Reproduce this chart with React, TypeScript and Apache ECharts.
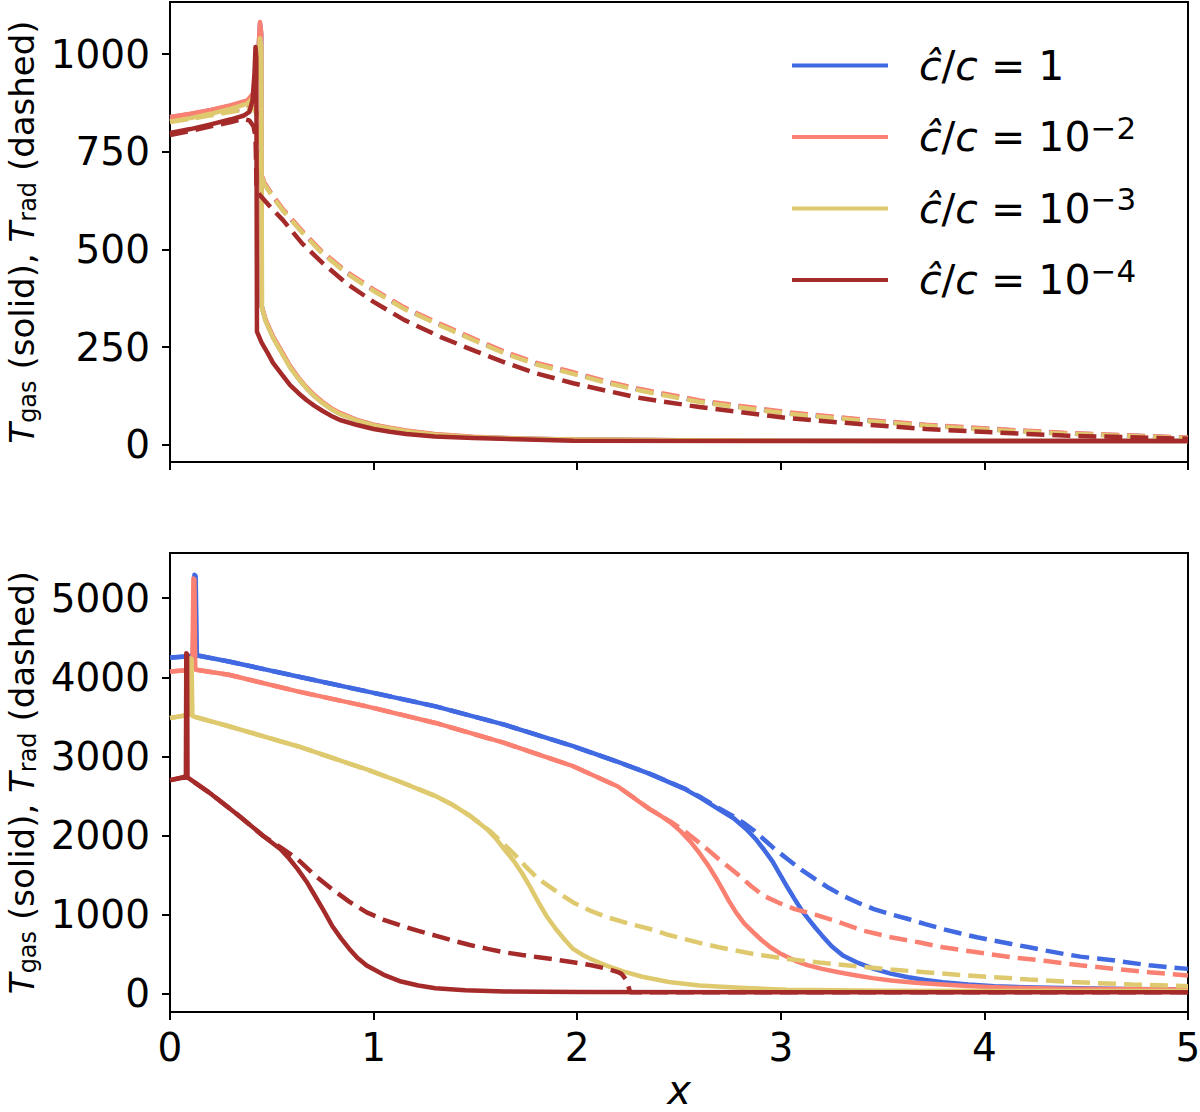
import React, { useEffect, useRef } from 'react';
import * as echarts from 'echarts';

type Pt = [number, number];

const FONT = 'DejaVu Sans';

// Axis ticks
const xTicks = [0, 1, 2, 3, 4, 5];
const topYTicks = [0, 250, 500, 750, 1000];
const bottomYTicks = [0, 1000, 2000, 3000, 4000, 5000];

// Legend entries: reduced speed of light ratio
const seriesKeys = ['r0', 'r2', 'r3', 'r4'];
const ratioBase = ['1', '10', '10', '10'];
const ratioExp = ['', '−2', '−3', '−4'];
const lineColors = ['#4169E1', '#FA8072', '#DFC96E', '#A52A2A'];

// ---------- upper panel: gas (solid) and radiation (dashed) temperature ----------
const topGas1: Pt[] = [
  [0, 838], [0.1, 846], [0.2, 856], [0.3, 868], [0.38, 880], [0.41, 898], [0.43, 960], [0.442, 1078], [0.448, 1050],
  [0.45, 355], [0.47, 318], [0.506, 276], [0.55, 236], [0.59, 200], [0.63, 171], [0.67, 146], [0.71, 125], [0.75, 108],
  [0.79, 93], [0.835, 80], [0.92, 63], [1.0, 51], [1.08, 43], [1.16, 36], [1.3, 27], [1.49, 20], [1.75, 16], [1.98, 14],
  [2.5, 12], [3, 11], [4, 10], [5, 10],
];
const topRad1: Pt[] = [
  [0, 830], [0.1, 838], [0.2, 846], [0.3, 855], [0.38, 862], [0.41, 864], [0.43, 845], [0.44, 770], [0.445, 705],
  [0.46, 672], [0.5, 640], [0.555, 601], [0.65, 545], [0.75, 491], [0.87, 440], [1.0, 396], [1.15, 350], [1.33, 307],
  [1.5, 268], [1.65, 235], [1.8, 208], [1.98, 184], [2.15, 160], [2.31, 141], [2.6, 112], [3.03, 82], [3.4, 64],
  [3.71, 51], [4.05, 40], [4.39, 30], [4.7, 24], [5.0, 18],
];
const topGas2: Pt[] = [
  [0, 839], [0.1, 847], [0.2, 857], [0.3, 869], [0.38, 881], [0.41, 900], [0.43, 965], [0.442, 1082], [0.448, 1055],
  [0.45, 356], [0.47, 320], [0.506, 278], [0.55, 238], [0.59, 202], [0.63, 173], [0.67, 148], [0.71, 127], [0.75, 110],
  [0.79, 95], [0.835, 82], [0.92, 64], [1.0, 52], [1.08, 44], [1.16, 37], [1.3, 28], [1.49, 21], [1.75, 16], [1.98, 14],
  [2.5, 12], [3, 11], [4, 10], [5, 10],
];
const topRad2: Pt[] = [
  [0, 831], [0.1, 839], [0.2, 847], [0.3, 856], [0.38, 863], [0.41, 865], [0.43, 846], [0.44, 772], [0.445, 707],
  [0.46, 674], [0.5, 642], [0.555, 603], [0.65, 547], [0.75, 493], [0.87, 442], [1.0, 398], [1.15, 352], [1.33, 309],
  [1.5, 270], [1.65, 237], [1.8, 210], [1.98, 186], [2.15, 162], [2.31, 143], [2.6, 114], [3.03, 84], [3.4, 65],
  [3.71, 52], [4.05, 41], [4.39, 31], [4.7, 25], [5.0, 19],
];
const topGas3: Pt[] = [
  [0, 827], [0.1, 836], [0.2, 847], [0.3, 860], [0.38, 873], [0.41, 890], [0.43, 950], [0.442, 1040], [0.448, 1020],
  [0.452, 350], [0.47, 316], [0.506, 274], [0.55, 234], [0.59, 198], [0.63, 170], [0.67, 145], [0.71, 124], [0.75, 107],
  [0.79, 92], [0.835, 79], [0.92, 62], [1.0, 50], [1.08, 42], [1.16, 35], [1.3, 26], [1.49, 20], [1.75, 16], [1.98, 14],
  [2.5, 12], [3, 11], [4, 10], [5, 10],
];
const topRad3: Pt[] = [
  [0, 826], [0.1, 834], [0.2, 843], [0.3, 852], [0.38, 859], [0.41, 861], [0.43, 842], [0.44, 768], [0.445, 702],
  [0.46, 670], [0.5, 638], [0.555, 599], [0.65, 543], [0.75, 489], [0.87, 438], [1.0, 394], [1.15, 348], [1.33, 305],
  [1.5, 266], [1.65, 233], [1.8, 206], [1.98, 182], [2.15, 158], [2.31, 139], [2.6, 110], [3.03, 80], [3.4, 62],
  [3.71, 49], [4.05, 38], [4.39, 29], [4.7, 23], [5.0, 17],
];
const topGas4: Pt[] = [
  [0, 798], [0.1, 808], [0.2, 820], [0.3, 833], [0.36, 842], [0.39, 852], [0.405, 880], [0.415, 950], [0.42, 1018],
  [0.424, 990], [0.427, 290], [0.45, 262], [0.48, 235], [0.506, 210], [0.55, 180], [0.59, 153], [0.63, 133], [0.67, 115],
  [0.71, 100], [0.75, 87], [0.79, 75], [0.835, 64], [0.92, 51], [1.0, 41], [1.08, 34], [1.16, 28], [1.3, 22], [1.49, 18],
  [1.98, 11], [3, 10], [5, 10],
];
const topRad4: Pt[] = [
  [0, 793], [0.1, 803], [0.2, 815], [0.3, 826], [0.36, 834], [0.39, 830], [0.41, 815], [0.42, 790], [0.425, 660],
  [0.44, 640], [0.5, 605], [0.555, 575], [0.65, 515], [0.75, 465], [0.87, 412], [1.0, 366], [1.15, 320], [1.33, 276],
  [1.5, 240], [1.65, 210], [1.8, 183], [1.98, 158], [2.15, 138], [2.31, 120], [2.6, 97], [3.03, 69], [3.4, 53],
  [3.71, 41], [4.05, 32], [4.39, 24], [4.7, 20], [5.0, 16],
];

// ---------- lower panel ----------
const botGas1: Pt[] = [
  [0, 4250], [0.078, 4263], [0.112, 4275], [0.12, 5295], [0.126, 5280], [0.132, 4278], [0.289, 4200], [0.627, 4011],
  [0.966, 3822], [1.304, 3633], [1.642, 3402], [1.98, 3129], [2.2, 2930], [2.357, 2780], [2.527, 2590], [2.61, 2470],
  [2.696, 2331], [2.77, 2215], [2.831, 2079], [2.875, 1960], [2.916, 1827], [2.96, 1670], [3.0, 1491], [3.034, 1340],
  [3.068, 1197], [3.1, 1065], [3.136, 945], [3.17, 835], [3.203, 735], [3.25, 600], [3.305, 483], [3.38, 390],
  [3.457, 315], [3.54, 255], [3.626, 210], [3.71, 175], [3.795, 147], [3.92, 118], [4.049, 97], [4.2, 82],
  [4.387, 72], [4.7, 62], [5.0, 54],
];
const botRad1: Pt[] = [
  [0, 4248], [0.078, 4262], [0.132, 4276], [0.289, 4200], [0.627, 4011], [0.966, 3822], [1.304, 3633], [1.642, 3402],
  [1.98, 3129], [2.2, 2930], [2.357, 2780], [2.527, 2595], [2.61, 2480], [2.696, 2345], [2.76, 2255], [2.815, 2163],
  [2.87, 2060], [2.916, 1953], [2.97, 1830], [3.034, 1701], [3.1, 1570], [3.169, 1449], [3.235, 1340], [3.305, 1239],
  [3.38, 1150], [3.457, 1071], [3.54, 1005], [3.626, 945], [3.71, 880], [3.795, 819], [3.88, 765], [3.964, 714],
  [4.05, 670], [4.133, 630], [4.22, 588], [4.303, 546], [4.39, 504], [4.471, 470], [4.641, 420], [4.81, 360], [5.0, 315],
];
const botGas2: Pt[] = [
  [0, 4074], [0.08, 4090], [0.11, 4095], [0.115, 5250], [0.12, 5235], [0.124, 4098], [0.289, 4032], [0.627, 3822],
  [0.966, 3633], [1.304, 3423], [1.642, 3171], [1.98, 2876], [2.2, 2620], [2.357, 2331], [2.41, 2250], [2.459, 2163],
  [2.51, 2050], [2.56, 1911], [2.6, 1780], [2.645, 1617], [2.68, 1470], [2.713, 1323], [2.745, 1175], [2.78, 1029],
  [2.82, 890], [2.865, 777], [2.905, 680], [2.949, 588], [3.0, 505], [3.068, 420], [3.13, 362], [3.203, 315],
  [3.29, 270], [3.372, 231], [3.45, 198], [3.541, 168], [3.66, 140], [3.795, 118], [3.92, 100], [4.049, 84],
  [4.2, 72], [4.387, 63], [5.0, 54],
];
const botRad2: Pt[] = [
  [0, 4072], [0.08, 4088], [0.124, 4097], [0.289, 4032], [0.627, 3822], [0.966, 3633], [1.304, 3423], [1.642, 3171],
  [1.98, 2876], [2.2, 2620], [2.357, 2335], [2.459, 2175], [2.52, 2070], [2.578, 1953], [2.64, 1825], [2.696, 1701],
  [2.75, 1590], [2.797, 1491], [2.855, 1360], [2.916, 1239], [2.99, 1150], [3.068, 1071], [3.169, 1000], [3.288, 903],
  [3.406, 798], [3.541, 714], [3.677, 651], [3.795, 588], [3.964, 525], [4.133, 462], [4.303, 415], [4.471, 360],
  [4.641, 315], [4.81, 273], [5.0, 231],
];
const botGas3: Pt[] = [
  [0, 3486], [0.095, 3528], [0.1, 4242], [0.106, 4230], [0.11, 3510], [0.289, 3381], [0.627, 3129], [0.966, 2835],
  [1.13, 2680], [1.304, 2499], [1.39, 2385], [1.473, 2250], [1.557, 2080], [1.6, 1965], [1.642, 1827], [1.685, 1690],
  [1.727, 1533], [1.77, 1345], [1.81, 1155], [1.85, 980], [1.895, 819], [1.94, 680], [1.98, 567], [2.025, 495],
  [2.067, 440], [2.11, 392], [2.15, 350], [2.23, 280], [2.32, 215], [2.45, 150], [2.6, 105], [2.8, 75], [3.03, 52],
  [3.5, 40], [4.0, 36], [5.0, 34],
];
const botRad3: Pt[] = [
  [0, 3484], [0.095, 3526], [0.11, 3508], [0.289, 3381], [0.627, 3129], [0.966, 2835], [1.13, 2680], [1.304, 2499],
  [1.39, 2385], [1.473, 2250], [1.575, 2050], [1.63, 1915], [1.693, 1760], [1.75, 1600], [1.81, 1449], [1.9, 1290],
  [1.98, 1155], [2.06, 1055], [2.15, 966], [2.25, 890], [2.357, 819], [2.44, 750], [2.527, 693], [2.61, 638],
  [2.696, 588], [2.865, 504], [3.034, 441], [3.203, 391], [3.372, 349], [3.541, 307], [3.71, 273], [3.88, 239],
  [4.049, 210], [4.218, 181], [4.387, 155], [4.556, 134], [4.726, 118], [5.0, 97],
];
const botGas4: Pt[] = [
  [0, 2700], [0.053, 2730], [0.078, 2750], [0.08, 4305], [0.084, 4290], [0.086, 2735], [0.205, 2520], [0.34, 2247],
  [0.458, 1995], [0.543, 1827], [0.585, 1710], [0.627, 1575], [0.67, 1420], [0.712, 1239], [0.755, 1050], [0.796, 861],
  [0.84, 700], [0.881, 567], [0.92, 455], [0.966, 357], [1.05, 240], [1.135, 155], [1.22, 105], [1.304, 71],
  [1.45, 45], [1.642, 29], [2.0, 22], [3.0, 20], [5.0, 20],
];
const botRad4: Pt[] = [
  [0, 2698], [0.053, 2728], [0.086, 2735], [0.205, 2520], [0.34, 2247], [0.458, 1995], [0.543, 1850], [0.627, 1701],
  [0.71, 1500], [0.796, 1323], [0.88, 1165], [0.966, 1029], [1.05, 935], [1.135, 861], [1.22, 795], [1.304, 735],
  [1.39, 672], [1.473, 617], [1.56, 568], [1.642, 525], [1.73, 490], [1.81, 462], [1.9, 430], [1.98, 399],
  [2.07, 360], [2.15, 315], [2.2, 275], [2.218, 252], [2.243, 168], [2.26, 21], [3.0, 20], [5.0, 20],
];

const topGas = [topGas1, topGas2, topGas3, topGas4];
const topRad = [topRad1, topRad2, topRad3, topRad4];
const botGas = [botGas1, botGas2, botGas3, botGas4];
const botRad = [botRad1, botRad2, botRad3, botRad4];

const LW = 4.5;
const DASH = [18, 8];

const yName =
  '{it|T}{sub|gas}{r| (solid), }{it|T}{sub|rad}{r| (dashed)}';

const nameRich = {
  it: { fontFamily: FONT, fontStyle: 'italic', fontSize: 34, lineHeight: 36, color: '#000' },
  r: { fontFamily: FONT, fontSize: 34, lineHeight: 36, color: '#000' },
  sub: { fontFamily: FONT, fontSize: 24, lineHeight: 22, verticalAlign: 'bottom', color: '#000' },
};

function makeSeries(gridIdx: number, gas: Pt[][], rad: Pt[][]) {
  const out: any[] = [];
  for (let i = 0; i < 4; i++) {
    out.push({
      type: 'line',
      name: seriesKeys[i],
      xAxisIndex: gridIdx,
      yAxisIndex: gridIdx,
      data: gas[i],
      showSymbol: false,
      symbol: 'none',
      color: lineColors[i],
      lineStyle: { color: lineColors[i], width: LW, type: 'solid', join: 'round' },
      silent: true,
    });
    out.push({
      type: 'line',
      name: seriesKeys[i] + '-rad',
      xAxisIndex: gridIdx,
      yAxisIndex: gridIdx,
      data: rad[i],
      showSymbol: false,
      symbol: 'none',
      color: lineColors[i],
      lineStyle: { color: lineColors[i], width: LW, type: DASH, cap: 'butt' },
      silent: true,
    });
  }
  return out;
}

function yAxisCommon(min: number, max: number, ticks: number[]) {
  return {
    type: 'value',
    min,
    max,
    splitLine: { show: false },
    axisLine: { show: true, onZero: false, lineStyle: { color: '#000', width: 2 } },
    axisTick: { show: true, length: 8, lineStyle: { color: '#000', width: 2 }, customValues: ticks },
    axisLabel: {
      show: true,
      customValues: ticks,
      margin: 20,
      fontFamily: FONT,
      fontSize: 39,
      color: '#000',
      formatter: (v: number) => String(v),
    },
    name: yName,
    nameLocation: 'middle',
    nameRotate: 90,
    nameGap: 110,
    nameTextStyle: { rich: nameRich },
  };
}

function xAxisCommon(gridIndex: number, showLabels: boolean) {
  return {
    type: 'value',
    gridIndex,
    min: 0,
    max: 5,
    interval: 1,
    splitLine: { show: false },
    axisLine: { show: true, onZero: false, lineStyle: { color: '#000', width: 2 } },
    axisTick: { show: true, length: 8, lineStyle: { color: '#000', width: 2 } },
    axisLabel: {
      show: showLabels,
      margin: 16,
      fontFamily: FONT,
      fontSize: 39,
      color: '#000',
      formatter: (v: number) => (xTicks.includes(v) ? String(v) : ''),
    },
  };
}

export default function App() {
  const ref = useRef<HTMLDivElement>(null);
  useEffect(() => {
    if (!ref.current) return;
    const chart = echarts.init(ref.current, undefined, { renderer: 'svg' });
    const legendText: Record<string, string> = {};
    seriesKeys.forEach((k, i) => {
      const exp = ratioExp[i] ? `{s|${ratioExp[i]}}` : '';
      legendText[k] = `{g| }{i|ĉ}{r|/}{i|c}{r| = ${ratioBase[i]}}${exp}`;
    });
    const gridBase = { show: true, borderColor: '#000', borderWidth: 2, containLabel: false, outerBoundsMode: 'none' };
    const option: any = {
      animation: false,
      backgroundColor: '#fff',
      textStyle: { fontFamily: FONT },
      grid: [
        { ...gridBase, left: 170, top: 2, width: 1018, height: 460 },
        { ...gridBase, left: 170, top: 553, width: 1018, height: 459 },
      ],
      xAxis: [
        xAxisCommon(0, false),
        {
          ...xAxisCommon(1, true),
          name: 'x',
          nameLocation: 'middle',
          nameGap: 68,
          nameTextStyle: { fontFamily: FONT, fontStyle: 'italic', fontSize: 40, lineHeight: 20, color: '#000' },
        },
      ],
      yAxis: [
        { ...yAxisCommon(-43.5, 1133, topYTicks), gridIndex: 0 },
        { ...yAxisCommon(-230, 5571, bottomYTicks), gridIndex: 1 },
      ],
      legend: {
        data: seriesKeys,
        orient: 'vertical',
        left: 787,
        top: 40,
        itemWidth: 96,
        itemHeight: 4,
        itemGap: 26,
        icon: 'rect',
        selectedMode: false,
        formatter: (name: string) => legendText[name],
        textStyle: {
          fontFamily: FONT,
          fontSize: 41,
          color: '#000',
          rich: {
            g: { width: 26, fontSize: 41, lineHeight: 50 },
            i: { fontFamily: FONT, fontStyle: 'italic', fontSize: 41, lineHeight: 50, color: '#000' },
            r: { fontFamily: FONT, fontSize: 41, lineHeight: 50, color: '#000' },
            s: { fontFamily: FONT, fontSize: 31, lineHeight: 28, verticalAlign: 'top', color: '#000' },
          },
        },
      },
      series: [...makeSeries(0, topGas, topRad), ...makeSeries(1, botGas, botRad)],
    };
    chart.setOption(option);
    return () => chart.dispose();
  }, []);
  return (
    <div
      ref={ref}
      style={{ position: 'absolute', left: 0, top: 0, width: 1200, height: 1112 }}
    />
  );
}
